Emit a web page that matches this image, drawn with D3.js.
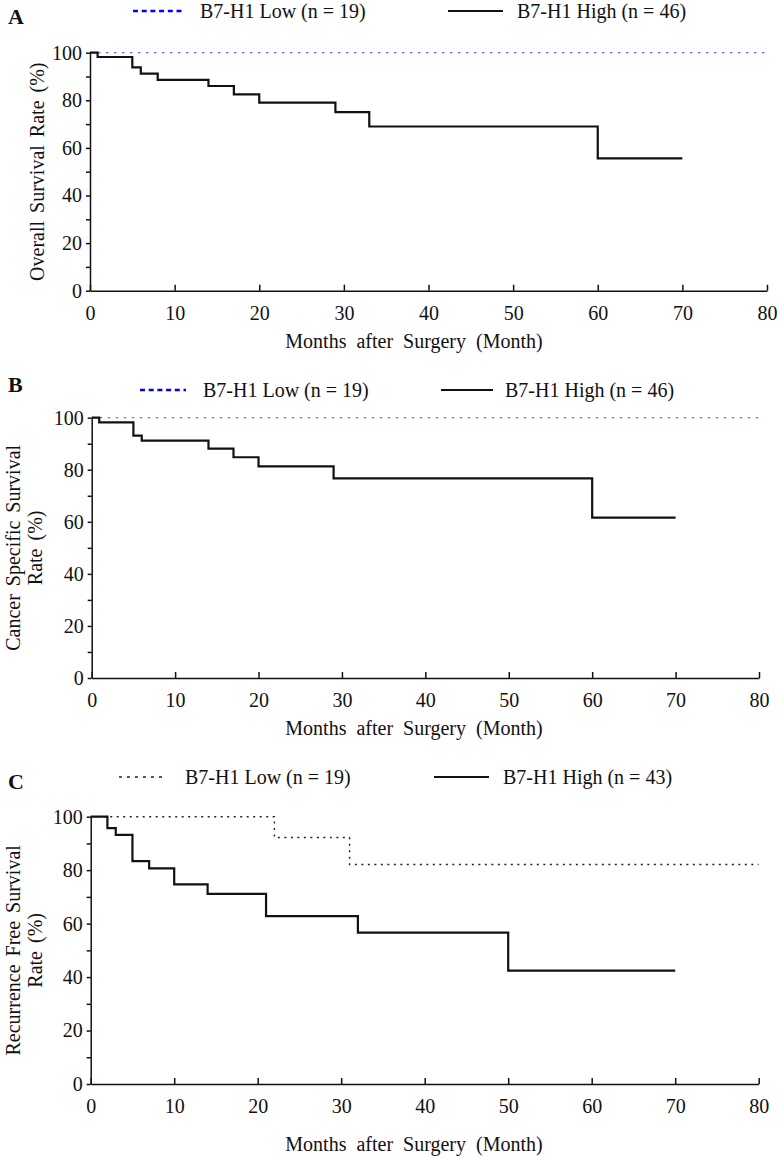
<!DOCTYPE html>
<html>
<head>
<meta charset="utf-8">
<script src="https://cdn.jsdelivr.net/npm/d3@7/dist/d3.min.js"></script>
<style>
  body { margin: 0; background: #fff; }
  svg text { font-family: "Liberation Serif", "Times New Roman", serif; fill: #111; }
  .axis path, .axis line { stroke: #111; stroke-width: 1.5; }
</style>
</head>
<body>
<div id="chart"></div>
<script>
(function(d3) {
  'use strict';

  // tick values shared by the three panels
  var monthTicks = [0, 10, 20, 30, 40, 50, 60, 70, 80];
  var rateTicks = [0, 10, 20, 30, 40, 50, 60, 70, 80, 90, 100];

  // A: overall survival
  var osLowMonths = [0, 80];
  var osLowRate = [100, 100];
  var osHighMonths = [0, 0.9, 5, 6, 8, 14, 17, 20, 29, 33, 60, 70];
  var osHighRate = [100, 98.2, 93.8, 91.2, 88.6, 86.0, 82.5, 79.0, 75.0, 69.0, 55.6, 55.6];

  // B: cancer specific survival
  var cssLowMonths = [0, 80];
  var cssLowRate = [100, 100];
  var cssHighMonths = [0, 0.9, 5, 6, 14, 17, 20, 29, 60, 70];
  var cssHighRate = [100, 98.2, 93.1, 91.2, 88.1, 84.8, 81.3, 76.7, 61.6, 61.6];

  // C: recurrence free survival
  var rfsLowMonths = [0, 22, 31, 80];
  var rfsLowRate = [100, 92.2, 82.1, 82.1];
  var rfsHighMonths = [0, 2, 3, 5, 7, 10, 14, 21, 32, 50, 70];
  var rfsHighRate = [100, 95.7, 93.2, 83.4, 80.7, 74.7, 71.1, 62.8, 56.6, 42.4, 42.4];

  var legendLow = 'B7-H1 Low (n = 19)';
  var legendHighAB = 'B7-H1 High (n = 46)';
  var legendHighC = 'B7-H1 High (n = 43)';
  var xTitle = 'Months after Surgery (Month)';

  function zip(ts, rs) {
    return ts.map(function(t, i) { return { t: t, r: rs[i] }; });
  }

  var width = 780;
  var height = 1158;

  var svg = d3.select('#chart')
    .append('svg')
    .attr('width', width)
    .attr('height', height);

  var panels = [
    {
      letter: 'A', letterY: 24,
      left: 90, right: 767, top: 52.7, bottom: 290.7, titleY: 348,
      yLabel: ['Overall Survival Rate (%)'], yLabelX: [44],
      legendY: 11,
      lowLeg: [133, 185, 200], highLeg: [448, 503, 517], highText: legendHighAB,
      lowStyle: 'blue',
      low: zip(osLowMonths, osLowRate), high: zip(osHighMonths, osHighRate)
    },
    {
      letter: 'B', letterY: 392,
      left: 91.7, right: 759, top: 417.7, bottom: 678, titleY: 735,
      yLabel: ['Cancer Specific Survival', 'Rate (%)'], yLabelX: [20, 42],
      legendY: 390,
      lowLeg: [140, 186, 203], highLeg: [441, 493, 505], highText: legendHighAB,
      lowStyle: 'blue',
      low: zip(cssLowMonths, cssLowRate), high: zip(cssHighMonths, cssHighRate)
    },
    {
      letter: 'C', letterY: 789,
      left: 90.7, right: 758.7, top: 816.7, bottom: 1084, titleY: 1151,
      yLabel: ['Recurrence Free Survival', 'Rate (%)'], yLabelX: [20, 42],
      legendY: 777,
      lowLeg: [119, 167, 185], highLeg: [434, 489, 503], highText: legendHighC,
      lowStyle: 'black',
      low: zip(rfsLowMonths, rfsLowRate), high: zip(rfsHighMonths, rfsHighRate)
    }
  ];

  panels.forEach(function(p) {
    var x = d3.scaleLinear().domain([0, 80]).range([p.left, p.right]);
    var y = d3.scaleLinear().domain([0, 100]).range([p.bottom, p.top]);

    var g = svg.append('g');

    // panel letter
    g.append('text')
      .attr('x', 8)
      .attr('y', p.letterY)
      .style('font-size', '22px')
      .style('font-weight', 'bold')
      .text(p.letter);

    // legend
    var leg = g.append('g');
    var lowLine = leg.append('line')
      .attr('x1', p.lowLeg[0]).attr('x2', p.lowLeg[1])
      .attr('y1', p.legendY).attr('y2', p.legendY);
    if (p.lowStyle === 'blue') {
      lowLine.style('stroke', '#0000ff').style('stroke-width', 2.5)
        .style('stroke-dasharray', '5,3.7');
    } else {
      lowLine.style('stroke', '#222').style('stroke-width', 1.4)
        .style('stroke-dasharray', '3,5');
    }
    leg.append('text')
      .attr('x', p.lowLeg[2]).attr('y', p.legendY + 6.5)
      .style('font-size', '20px')
      .text(legendLow);
    leg.append('line')
      .attr('x1', p.highLeg[0]).attr('x2', p.highLeg[1])
      .attr('y1', p.legendY).attr('y2', p.legendY)
      .style('stroke', '#111').style('stroke-width', 2.2);
    leg.append('text')
      .attr('x', p.highLeg[2]).attr('y', p.legendY + 6.5)
      .style('font-size', '20px')
      .text(p.highText);

    // axes
    var xAxis = d3.axisBottom(x)
      .tickValues(monthTicks)
      .tickSizeInner(-6)
      .tickSizeOuter(0)
      .tickPadding(15);
    var yAxis = d3.axisLeft(y)
      .tickValues(rateTicks)
      .tickFormat(function(d) { return d % 20 === 0 ? d : ''; })
      .tickSizeInner(4)
      .tickSizeOuter(0)
      .tickPadding(4);

    var gx = g.append('g')
      .attr('class', 'axis')
      .attr('transform', 'translate(0,' + p.bottom + ')')
      .call(xAxis);
    gx.selectAll('text').style('font-size', '20px').attr('fill', '#111');

    var gy = g.append('g')
      .attr('class', 'axis')
      .attr('transform', 'translate(' + p.left + ',0)')
      .call(yAxis);
    gy.selectAll('text').style('font-size', '20px').attr('fill', '#111');

    // axis titles
    g.append('text')
      .attr('x', 414)
      .attr('y', p.titleY)
      .attr('text-anchor', 'middle')
      .style('font-size', '20px')
      .style('word-spacing', '5px')
      .text(xTitle);

    p.yLabel.forEach(function(s, i) {
      g.append('text')
        .attr('transform', 'translate(' + p.yLabelX[i] + ',' + ((p.top + p.bottom) / 2) + ') rotate(-90)')
        .attr('text-anchor', 'middle')
        .style('font-size', '20px')
        .style('word-spacing', '3px')
        .text(s);
    });

    // survival curves
    var line = d3.line()
      .curve(d3.curveStepAfter)
      .x(function(d) { return x(d.t); })
      .y(function(d) { return y(d.r); });

    var lowPath = g.append('path')
      .datum(p.low)
      .attr('d', line)
      .attr('fill', 'none');
    if (p.lowStyle === 'blue') {
      lowPath.style('stroke', '#6a6aff').style('stroke-width', 1.3)
        .style('stroke-dasharray', '2.5,5.5');
    } else {
      lowPath.style('stroke', '#222').style('stroke-width', 1.4)
        .style('stroke-dasharray', '2,4.5');
    }

    g.append('path')
      .datum(p.high)
      .attr('d', line)
      .attr('fill', 'none')
      .style('stroke', '#111')
      .style('stroke-width', 2.2);
  });

})(window.d3);
</script>
</body>
</html>
